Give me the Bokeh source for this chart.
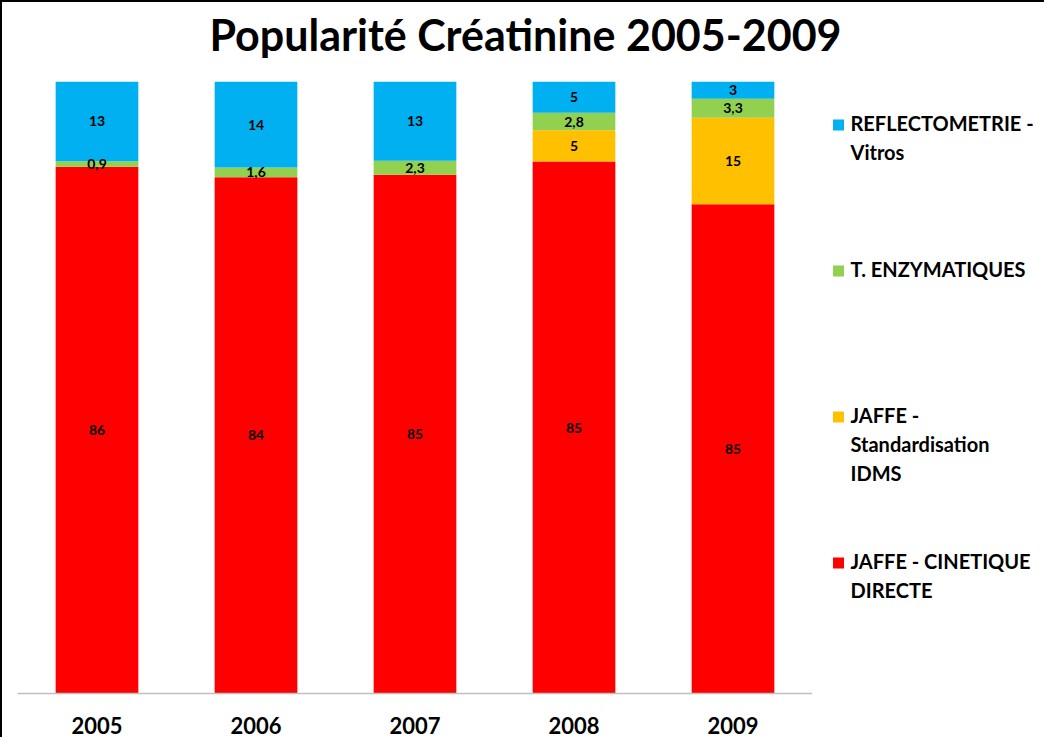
from bokeh.plotting import figure
from bokeh.models import ColumnDataSource, Range1d, Label, FactorRange
from bokeh.layouts import column, row
from bokeh.core.properties import value
from bokeh.embed import file_html
from bokeh.resources import INLINE

# ---------------- data ----------------
years = ["2005", "2006", "2007", "2008", "2009"]
jaffe_cinetique = [86, 84, 85, 85, 85]
jaffe_idms = [0, 0, 0, 5, 15]
enzymatiques = [0.9, 1.6, 2.3, 2.8, 3.3]
reflectometrie = [13, 14, 13, 5, 3]

series_keys = ["jaffe_cinetique", "jaffe_idms", "enzymatiques", "reflectometrie"]
series_values = [jaffe_cinetique, jaffe_idms, enzymatiques, reflectometrie]
series_names = ["JAFFE - CINETIQUE\nDIRECTE",
                "JAFFE -\nStandardisation\nIDMS",
                "T. ENZYMATIQUES",
                "REFLECTOMETRIE -\nVitros"]
colors = ["#FF0000", "#FFC000", "#92D050", "#00B0F0"]
title_text = "Popularité Créatinine 2005-2009"

FONT = "Lato"

# ---------------- 100% stacked shares ----------------
totals = [sum(s[i] for s in series_values) for i in range(len(years))]
data = {"year": years}
for k, s in zip(series_keys, series_values):
    data[k] = [v / t for v, t in zip(s, totals)]
src = ColumnDataSource(data)

lx, ly, lt = [], [], []
for i, yr in enumerate(years):
    cum = 0.0
    for s in series_values:
        v = s[i]
        if v > 0:
            lx.append(yr)
            ly.append((cum + v / 2) / totals[i])
            lt.append(f"{v:g}".replace(".", ","))
        cum += v
lab_src = ColumnDataSource(dict(x=lx, y=ly, text=lt))

# ---------------- geometry (page pixels) ----------------
CX0, CY0 = 10, 10          # content origin inside the 2px border
FRAME_L, FRAME_R = 25, 820
FRAME_T, FRAME_B = 89, 701
BOTTOM_PAD = 44
TOTAL_W = 1042

# ---------------- title figure ----------------
t = figure(width=TOTAL_W, height=FRAME_T - CY0,
           x_range=Range1d(0, 1), y_range=Range1d(0, 1),
           x_axis_location=None, y_axis_location=None,
           min_border=0, output_backend="svg", toolbar_location=None)
t.outline_line_color = None
t.grid.visible = False
t.add_layout(Label(x=533 - CX0, y=FRAME_T - 42, x_units="screen", y_units="screen",
                   text=title_text, text_font=FONT, text_font_style="bold",
                   text_font_size="43px", text_align="center",
                   text_baseline="middle", text_color="black"))

# ---------------- main chart ----------------
p = figure(x_range=FactorRange(*years), y_range=Range1d(0, 1),
           frame_width=FRAME_R - FRAME_L, frame_height=FRAME_B - FRAME_T,
           min_border_left=FRAME_L - CX0, min_border_right=0,
           min_border_top=0, min_border_bottom=BOTTOM_PAD,
           output_backend="svg", toolbar_location=None)

p.vbar_stack(series_keys, x="year", width=0.52, color=colors,
             line_color=None, source=src)

p.text(x="x", y="y", text="text", source=lab_src,
       text_font=value(FONT), text_font_style="bold", text_font_size="14px",
       text_align="center", text_baseline="middle", text_color="black")

p.outline_line_color = None
p.grid.visible = False
p.yaxis.visible = False
p.xaxis.axis_line_color = "#BFBFBF"
p.xaxis.axis_line_width = 1.5
p.xaxis.major_tick_line_color = None
p.xaxis.minor_tick_line_color = None
p.xaxis.major_label_text_font = FONT
p.xaxis.major_label_text_font_style = "bold"
p.xaxis.major_label_text_font_size = "22px"
p.xaxis.major_label_text_color = "black"
p.xaxis.major_label_standoff = 17

# ---------------- legend figure ----------------
LEG_W = TOTAL_W - (FRAME_R - CX0)
LEG_H = FRAME_B - FRAME_T + BOTTOM_PAD
lg = figure(frame_width=LEG_W, frame_height=LEG_H,
            x_range=Range1d(FRAME_R, FRAME_R + LEG_W),
            y_range=Range1d(FRAME_T + LEG_H, FRAME_T),
            x_axis_location=None, y_axis_location=None,
            min_border=0, output_backend="svg", toolbar_location=None)
lg.outline_line_color = None
lg.grid.visible = False

item_top = 138
item_step = 146
line_step = 29
sq_x, sq_y, sq_c = [], [], []
tx, ty, tt = [], [], []
for j, idx in enumerate(reversed(range(len(series_names)))):
    base = item_top + j * item_step
    sq_x.append(846)
    sq_y.append(base - 5.5)
    sq_c.append(colors[idx])
    for k, line in enumerate(series_names[idx].split("\n")):
        tx.append(858)
        ty.append(base + k * line_step - 8)
        tt.append(line)

lg.scatter(x=sq_x, y=sq_y, color=sq_c, marker="square", size=11, line_color=None)
lg.text(x=tx, y=ty, text=tt, text_font=value(FONT), text_font_style="bold",
        text_font_size="20px", text_align="left", text_baseline="middle",
        text_color="black")

layout = column(t, row(p, lg))
layout.styles = {"border-left": "2px solid #000000",
                 "border-top": "2px solid #000000"}

open("out.html", "w").write(file_html(layout, INLINE))
